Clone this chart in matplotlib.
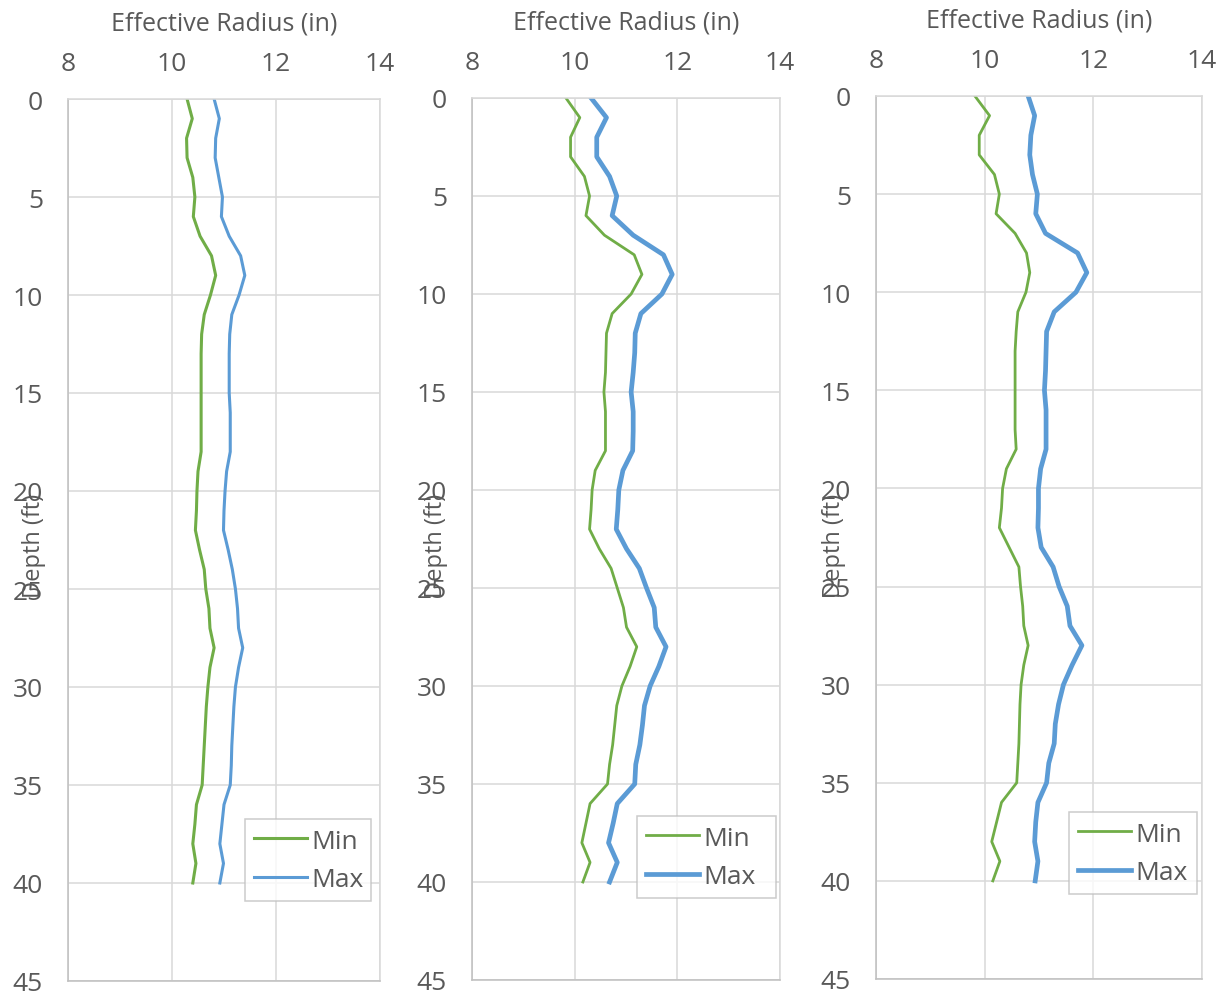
import matplotlib
matplotlib.use("Agg")
import matplotlib.pyplot as plt
import numpy as np

plt.rcParams['font.family'] = ['Open Sans', 'DejaVu Sans']

depth = list(range(0, 41))

min1 = [10.29, 10.39, 10.28, 10.29, 10.40, 10.44, 10.41, 10.54, 10.76, 10.84,
        10.74, 10.62, 10.57, 10.56, 10.56, 10.56, 10.56, 10.56, 10.56, 10.50,
        10.48, 10.47, 10.45, 10.53, 10.62, 10.65, 10.71, 10.73, 10.81, 10.73,
        10.69, 10.66, 10.64, 10.62, 10.60, 10.58, 10.47, 10.44, 10.40, 10.46, 10.40]
max1 = [10.81, 10.91, 10.84, 10.83, 10.90, 10.97, 10.95, 11.10, 11.32, 11.40,
        11.29, 11.15, 11.11, 11.10, 11.10, 11.10, 11.12, 11.12, 11.12, 11.05,
        11.02, 11.00, 10.99, 11.08, 11.16, 11.22, 11.26, 11.28, 11.36, 11.28,
        11.22, 11.19, 11.17, 11.15, 11.14, 11.12, 11.00, 10.96, 10.92, 10.99, 10.92]

min2 = [9.83, 10.10, 9.92, 9.92, 10.19, 10.29, 10.22, 10.58, 11.16, 11.31,
        11.10, 10.73, 10.62, 10.61, 10.60, 10.57, 10.60, 10.60, 10.60, 10.40,
        10.34, 10.32, 10.29, 10.48, 10.71, 10.83, 10.95, 11.01, 11.21, 11.08,
        10.92, 10.82, 10.78, 10.74, 10.68, 10.64, 10.30, 10.22, 10.14, 10.30, 10.16]
max2 = [10.32, 10.62, 10.43, 10.43, 10.68, 10.82, 10.73, 11.14, 11.73, 11.90,
        11.70, 11.29, 11.18, 11.17, 11.14, 11.10, 11.14, 11.14, 11.13, 10.94,
        10.86, 10.84, 10.81, 11.01, 11.26, 11.40, 11.55, 11.58, 11.78, 11.64,
        11.47, 11.36, 11.32, 11.27, 11.19, 11.17, 10.83, 10.75, 10.66, 10.83, 10.68]

min3 = [9.82, 10.09, 9.90, 9.90, 10.18, 10.27, 10.21, 10.56, 10.77, 10.83,
        10.76, 10.61, 10.58, 10.56, 10.56, 10.56, 10.56, 10.56, 10.58, 10.40,
        10.33, 10.31, 10.27, 10.45, 10.63, 10.66, 10.70, 10.72, 10.80, 10.72,
        10.67, 10.65, 10.64, 10.63, 10.61, 10.59, 10.31, 10.22, 10.13, 10.28, 10.15]
max3 = [10.80, 10.92, 10.85, 10.83, 10.88, 10.97, 10.94, 11.12, 11.71, 11.88,
        11.68, 11.28, 11.14, 11.13, 11.12, 11.10, 11.13, 11.13, 11.13, 11.03,
        10.99, 10.99, 10.98, 11.04, 11.26, 11.37, 11.52, 11.57, 11.79, 11.61,
        11.45, 11.36, 11.30, 11.28, 11.18, 11.14, 10.98, 10.94, 10.92, 10.98, 10.93]

x_ticks = [8, 10, 12, 14]
y_ticks = [0, 5, 10, 15, 20, 25, 30, 35, 40, 45]
x_title = "Effective Radius (in)"
y_title = "Depth (ft)"
series_names = ["Min", "Max"]

GREEN = "#70AD47"
BLUE = "#5B9BD5"
TXT = "#595959"
GRID = "#D9D9D9"

W, H = 1225, 995
fig = plt.figure(figsize=(W / 100, H / 100), dpi=100)

panels = [
    dict(mn=min1, mx=max1, box=(68, 100, 380, 982), lw=(2.2, 2.2), leg=(245, 822, 371, 902), ylab_x=34),
    dict(mn=min2, mx=max2, box=(472, 99, 780, 981), lw=(2.0, 3.4), leg=(637, 819, 776, 899), ylab_x=436),
    dict(mn=min3, mx=max3, box=(876, 97, 1202, 980), lw=(2.0, 3.4), leg=(1069, 815, 1197, 895), ylab_x=834),
]

for p in panels:
    l, t, r, b = p["box"]
    ax = fig.add_axes([l / W, 1 - b / H, (r - l) / W, (b - t) / H])
    # y-axis title drawn first so tick labels sit over it, as in the reference
    fig.text(p["ylab_x"] / W, 1 - 598 / H, y_title, rotation=90, ha='center', va='bottom',
             fontsize=17, color=TXT, zorder=0)
    ax.plot(p["mn"], depth, color=GREEN, lw=p["lw"][0], label=series_names[0], solid_joinstyle='round')
    ax.plot(p["mx"], depth, color=BLUE, lw=p["lw"][1], label=series_names[1], solid_joinstyle='round')
    ax.set_xlim(8, 14)
    ax.set_ylim(45, 0)
    ax.set_xticks(x_ticks)
    ax.set_yticks(y_ticks)
    ax.xaxis.tick_top()
    ax.xaxis.set_label_position('top')
    ax.grid(True, color=GRID, lw=1.1)
    ax.set_axisbelow(True)
    for s in ax.spines.values():
        s.set_color(GRID)
        s.set_linewidth(1.1)
    ax.spines['left'].set_color("#BFBFBF")
    ax.spines['bottom'].set_color("#BFBFBF")
    ax.tick_params(length=0, labelsize=19, colors=TXT)
    ax.tick_params(axis='x', pad=16.4)
    ax.tick_params(axis='y', pad=18)
    ax.set_xlabel(x_title, fontsize=18, color=TXT, labelpad=15.5)
    ll, lt, lr, lb = p["leg"]
    leg = ax.legend(loc='lower left',
                    bbox_to_anchor=((ll - l) / (r - l), (b - lb) / (b - t),
                                    (lr - ll) / (r - l), (lb - lt) / (b - t)),
                    mode='expand', frameon=True, fancybox=False, fontsize=19,
                    handlelength=2.0, handletextpad=0.15, borderpad=0.35,
                    labelspacing=0.5, borderaxespad=0)
    leg.get_frame().set_edgecolor("#BFBFBF")
    leg.get_frame().set_linewidth(1.1)
    for txt in leg.get_texts():
        txt.set_color(TXT)

fig.savefig("out.png", dpi=100)
